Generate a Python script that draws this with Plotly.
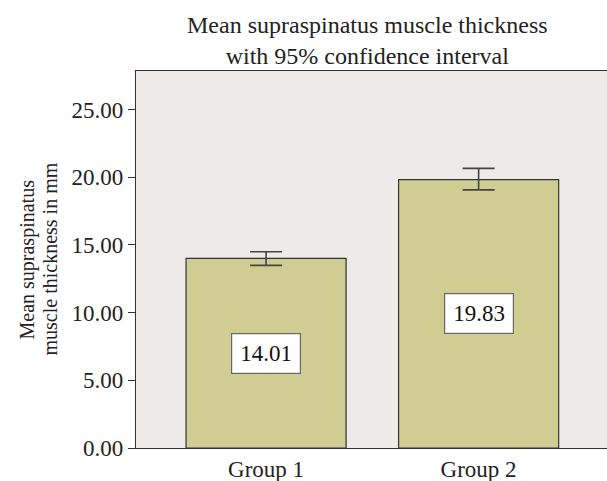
import plotly.graph_objects as go

categories = ["Group 1", "Group 2"]
means = [14.01, 19.83]
ci_upper = [14.50, 20.66]
ci_lower = [13.49, 19.07]
label_texts = ["14.01", "19.83"]
y_ticks = [0, 5, 10, 15, 20, 25]
y_tick_labels = ["0.00", "5.00", "10.00", "15.00", "20.00", "25.00"]
title_lines = ["Mean supraspinatus muscle thickness", "with 95% confidence interval"]
ytitle_lines = ["Mean supraspinatus", "muscle thickness in mm"]

err_plus = [u - m for u, m in zip(ci_upper, means)]
err_minus = [m - l for m, l in zip(means, ci_lower)]

FONT = "Liberation Serif"
FS = 23
TXT = "#222222"

fig = go.Figure()
fig.add_trace(go.Bar(
    x=categories, y=means, width=0.753,
    marker=dict(color="#D0CD93", line=dict(color="#333333", width=1.2)),
    error_y=dict(type="data", symmetric=False, array=err_plus, arrayminus=err_minus,
                 color="#444444", thickness=1.6, width=16),
    hoverinfo="skip",
))

for c, m, t in zip(categories, means, label_texts):
    fig.add_annotation(
        x=c, y=m / 2, text=t, showarrow=False,
        font=dict(family=FONT, size=FS, color="#111111"),
        bgcolor="white", bordercolor="#666666", borderwidth=1.2,
        borderpad=6, width=56, height=27,
    )

# chart title
fig.add_annotation(
    xref="paper", yref="paper", x=0.5, y=1, xanchor="center", yanchor="bottom",
    xshift=-4, yshift=0, showarrow=False, text="<br>".join(title_lines),
    font=dict(family=FONT, size=24, color=TXT),
)
# y-axis title, two rotated lines
for i, line in enumerate(ytitle_lines):
    fig.add_annotation(
        xref="paper", yref="paper", x=0, y=0.5, xanchor="center", yanchor="middle",
        xshift=-109 + 22 * i, showarrow=False, textangle=-90, text=line,
        font=dict(family=FONT, size=20, color=TXT),
    )

fig.update_layout(
    width=607, height=481,
    margin=dict(l=136, r=0, t=71, b=33),
    paper_bgcolor="white", plot_bgcolor="#EEEAEA",
    showlegend=False,
    font=dict(family=FONT, size=FS, color=TXT),
)
fig.update_xaxes(
    range=[-0.612, 1.604], showline=True, linecolor="#333333", linewidth=1.2,
    mirror=True, ticks="", showgrid=False, tickfont=dict(size=FS),
)
fig.update_yaxes(
    range=[0, 27.85], tickvals=y_ticks, ticktext=y_tick_labels,
    showline=True, linecolor="#333333", linewidth=1.2, ticks="outside",
    ticklen=7, tickcolor="#333333", showgrid=False, zeroline=False,
    tickfont=dict(size=FS),
)

fig.write_html(
    "out.html",
    config={"displayModeBar": False},
    post_script="document.body.style.margin='0';document.body.style.overflow='hidden';",
)
